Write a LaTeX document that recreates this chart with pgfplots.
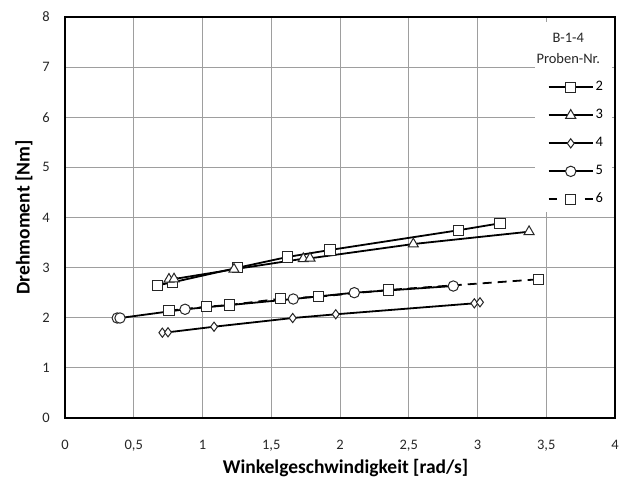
\documentclass[border=0pt]{standalone}
\usepackage{pgfplots}
\pgfplotsset{compat=1.18}
\usepackage{fontspec}
\setmainfont{Carlito}
\pgfplotsset{dashlegend/.style={legend image code/.code={\draw[mark repeat=2, mark phase=2, ##1, dash pattern=on 8pt off 28pt] plot coordinates {(0pt,0pt) (22pt,0pt) (44pt,0pt)};}}}
\begin{document}
\begin{tikzpicture}[x=1pt,y=1pt]
\useasboundingbox (-65,-61) rectangle (561,418);
\begin{axis}[
  at={(0,0)}, anchor=south west, scale only axis,
  width=550pt, height=401pt,
  xmin=0, xmax=4, ymin=0, ymax=8,
  xtick={0,0.5,...,4}, ytick={0,1,...,8},
  grid=major, major grid style={draw=black!38, line width=0.9pt},
  axis line style={black, line width=1.3pt},
  tick style={draw=none},
  /pgf/number format/assume math mode=true,
  /pgf/number format/use comma,
  ticklabel style={font=\fontsize{14.5}{15}\selectfont, text=black!85},
  xticklabel style={inner sep=0pt, anchor=north, yshift=-22pt},
  yticklabel style={inner sep=0pt, anchor=east, xshift=-15pt},
  xlabel={\textbf{Winkelgeschwindigkeit [rad/s]}},
  ylabel={\textbf{Drehmoment [Nm]}},
  every axis x label/.style={at={(axis description cs:0.51,-0.125)}, anchor=center, font=\fontsize{19.5}{20}\selectfont},
  every axis y label/.style={at={(axis description cs:-0.0745,0.5)}, anchor=center, rotate=90, font=\fontsize{19.5}{20}\selectfont},
  every axis plot/.append style={black, line width=1.8pt, mark options={solid, fill=white, draw=black!85, line width=1pt}},
  legend image code/.code={\draw[mark repeat=2, mark phase=2, #1] plot coordinates {(0pt,0pt) (22pt,0pt) (44pt,0pt)};},
  legend style={at={(axis cs:3.51,6.77)}, anchor=north west, draw=none, fill=none,
    font=\fontsize{14.5}{15}\selectfont, inner sep=0pt, row sep=11pt,
    nodes={inner sep=2pt, text height=10pt, text depth=3pt}},
  legend cell align=left,
]
\fill[white] (axis cs:3.42,7.90) rectangle (axis cs:3.98,4.10);
\node[font=\fontsize{14.5}{15}\selectfont, text=black!85] at (axis cs:3.66,7.58) {B-1-4};
\node[font=\fontsize{14.5}{15}\selectfont, text=black!85] at (axis cs:3.66,7.18) {Proben-Nr.};

\addplot[mark=square*, mark size=5.2pt] coordinates {
(0.671,2.647) (0.783,2.707) (1.256,2.998) (1.617,3.212) (1.927,3.352) (2.860,3.745) (3.164,3.884)};
\addlegendentry{2}
\addplot[mark=triangle*, mark size=5.8pt] coordinates {
(0.756,2.767) (0.793,2.773) (1.229,2.967) (1.733,3.178) (1.782,3.186) (2.533,3.471) (3.375,3.717)};
\addlegendentry{3}
\addplot[mark=diamond*, mark size=4.6pt] coordinates {
(0.708,1.702) (0.749,1.710) (1.084,1.821) (1.656,1.995) (1.969,2.069) (2.977,2.288) (3.018,2.308)};
\addlegendentry{4}
\addplot[mark=*, mark size=5.2pt] coordinates {
(0.380,1.995) (0.400,1.995) (0.873,2.169) (1.660,2.374) (2.104,2.500) (2.824,2.633)};
\addlegendentry{5}
\addplot[mark=square*, mark size=5.2pt, dash pattern=on 9pt off 6pt, dashlegend] coordinates {
(0.756,2.141) (1.031,2.220) (1.195,2.254) (1.569,2.380) (1.842,2.420) (2.351,2.554) (3.442,2.767)};
\addlegendentry{6}
\end{axis}
\end{tikzpicture}
\end{document}
